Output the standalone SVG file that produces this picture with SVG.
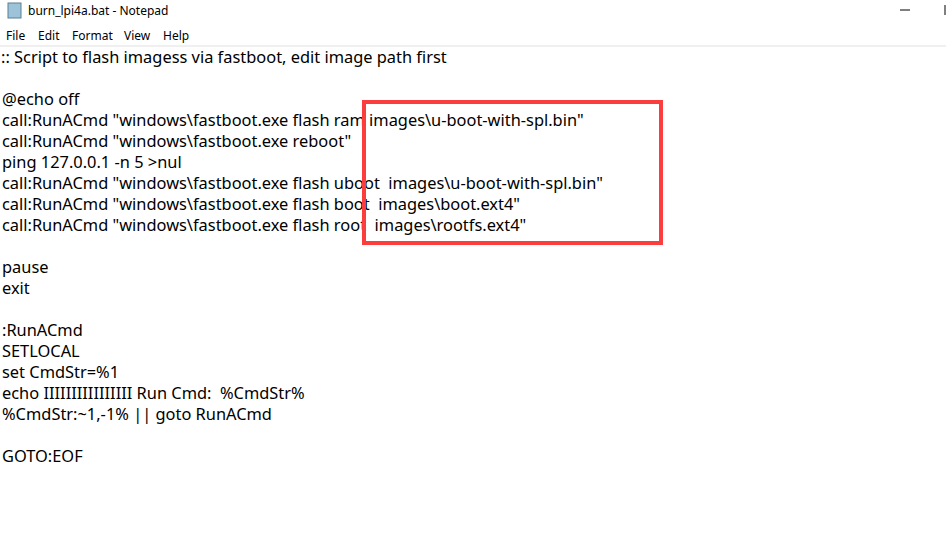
<svg xmlns="http://www.w3.org/2000/svg" width="946" height="559" viewBox="0 0 946 559">
<style>
.t{font-family:"Noto Sans","Open Sans",sans-serif;font-size:16.4px;fill:#000;white-space:pre}
.m{font-family:"Noto Sans",sans-serif;font-size:12px;fill:#000}
</style>
<rect width="946" height="559" fill="#fff"/>
<g id="titlebar">
<rect x="8" y="3" width="13" height="15" fill="#9cc3d8" stroke="#5a7f95" stroke-width="1"/>
<text class="m" x="28" y="15">burn_lpi4a.bat - Notepad</text>
<line x1="900" y1="10" x2="910" y2="10" stroke="#000"/>
<line x1="945" y1="5" x2="945" y2="15" stroke="#000"/>
</g>
<g id="menu">
<text class="m" x="6" y="40">File</text>
<text class="m" x="38" y="40">Edit</text>
<text class="m" x="72" y="40">Format</text>
<text class="m" x="124" y="40">View</text>
<text class="m" x="163" y="40">Help</text>
<rect x="0" y="45" width="946" height="2" fill="#f0f0f0"/>
</g>
<g id="text" xml:space="preserve">
<text class="t" x="1" y="63">:: Script to flash imagess via fastboot, edit image path first</text>
<text class="t" x="2" y="105">@echo off</text>
<text class="t" x="2" y="126">call:RunACmd "windows\fastboot.exe flash ram images\u-boot-with-spl.bin"</text>
<text class="t" x="2" y="147">call:RunACmd "windows\fastboot.exe reboot"</text>
<text class="t" x="2" y="168">ping 127.0.0.1 -n 5 &gt;nul</text>
<text class="t" x="2" y="189">call:RunACmd "windows\fastboot.exe flash uboot  images\u-boot-with-spl.bin"</text>
<text class="t" x="2" y="210">call:RunACmd "windows\fastboot.exe flash boot  images\boot.ext4"</text>
<text class="t" x="2" y="231">call:RunACmd "windows\fastboot.exe flash root  images\rootfs.ext4"</text>
<text class="t" x="2" y="273">pause</text>
<text class="t" x="2" y="294">exit</text>
<text class="t" x="2" y="336">:RunACmd</text>
<text class="t" x="2" y="357">SETLOCAL</text>
<text class="t" x="2" y="378">set CmdStr=%1</text>
<text class="t" x="2" y="399">echo IIIIIIIIIIIIIIII Run Cmd:  %CmdStr%</text>
<text class="t" x="2" y="420">%CmdStr:~1,-1% || goto RunACmd</text>
<text class="t" x="2" y="462">GOTO:EOF</text>
</g>
<rect id="highlight" x="364" y="102" width="297" height="141" fill="none" stroke="#fc3d3d" stroke-width="4"/>
</svg>
